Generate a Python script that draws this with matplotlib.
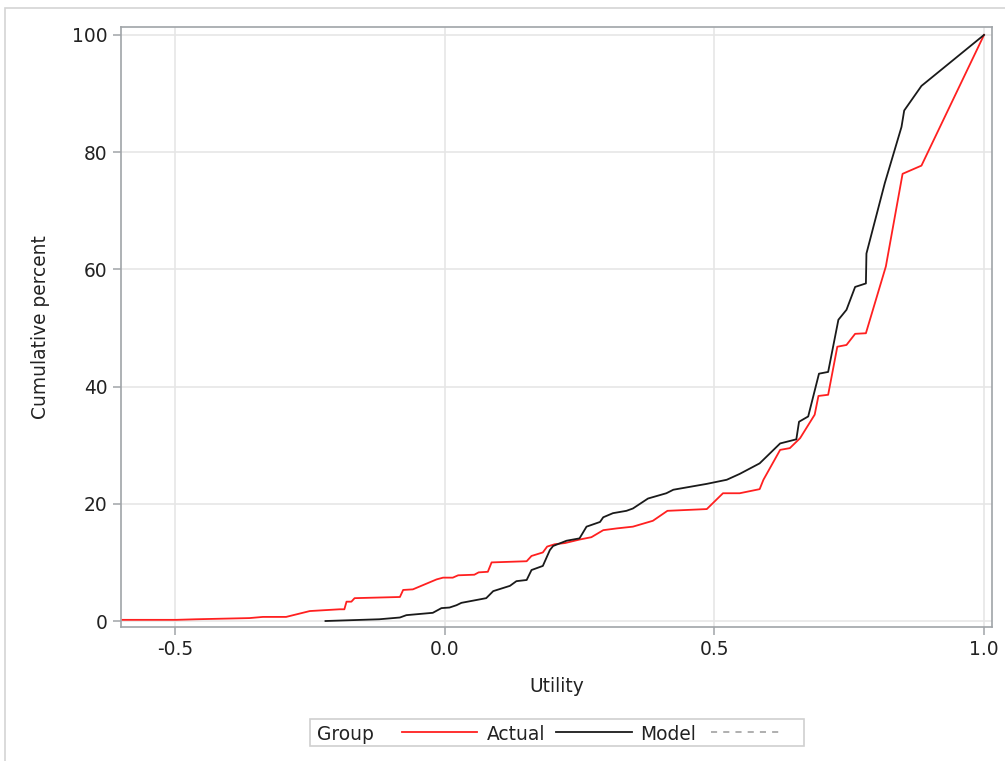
import matplotlib
matplotlib.use("Agg")
import matplotlib.pyplot as plt
from matplotlib.lines import Line2D
from matplotlib.patches import Rectangle

# ---- data ----
actual_x = [-0.597, -0.498, -0.461, -0.362, -0.337, -0.294, -0.250, -0.195, -0.186, -0.182,
            -0.173, -0.167, -0.083, -0.077, -0.059, -0.015, -0.003, 0.015, 0.025, 0.055,
            0.063, 0.080, 0.087, 0.152, 0.161, 0.182, 0.190, 0.204, 0.223, 0.250,
            0.272, 0.294, 0.319, 0.349, 0.386, 0.413, 0.486, 0.516, 0.547, 0.584,
            0.591, 0.622, 0.640, 0.659, 0.686, 0.693, 0.711, 0.728, 0.745, 0.761,
            0.781, 0.818, 0.849, 0.884, 1.0]
actual_y = [0.2, 0.2, 0.3, 0.5, 0.7, 0.7, 1.7, 2.0, 2.0, 3.3,
            3.3, 3.9, 4.1, 5.3, 5.4, 7.1, 7.4, 7.4, 7.8, 7.9,
            8.3, 8.4, 10.0, 10.2, 11.1, 11.7, 12.7, 13.1, 13.3, 13.9,
            14.3, 15.5, 15.8, 16.1, 17.1, 18.8, 19.1, 21.8, 21.8, 22.5,
            24.1, 29.2, 29.5, 31.2, 35.2, 38.4, 38.6, 46.8, 47.1, 49.0,
            49.1, 60.5, 76.3, 77.7, 100.0]

model_x = [-0.221, -0.121, -0.083, -0.071, -0.022, -0.006, 0.009, 0.022, 0.031, 0.077,
           0.090, 0.121, 0.133, 0.152, 0.161, 0.182, 0.195, 0.201, 0.226, 0.250,
           0.263, 0.288, 0.294, 0.312, 0.337, 0.349, 0.377, 0.411, 0.424, 0.486,
           0.523, 0.547, 0.584, 0.622, 0.652, 0.657, 0.674, 0.694, 0.711, 0.730,
           0.745, 0.761, 0.781, 0.782, 0.816, 0.847, 0.852, 0.884, 1.0]
model_y = [0.0, 0.3, 0.6, 1.0, 1.4, 2.2, 2.3, 2.7, 3.1, 3.9,
           5.1, 6.0, 6.8, 7.0, 8.7, 9.4, 12.1, 12.8, 13.7, 14.1,
           16.1, 16.9, 17.7, 18.4, 18.8, 19.2, 20.9, 21.8, 22.4, 23.4,
           24.1, 25.1, 26.9, 30.3, 31.0, 34.0, 34.9, 42.2, 42.5, 51.4,
           53.1, 57.0, 57.6, 62.7, 74.7, 84.3, 87.1, 91.3, 100.0]

x_ticks = [-0.5, 0.0, 0.5, 1.0]
x_tick_labels = ["-0.5", "0.0", "0.5", "1.0"]
y_ticks = [0, 20, 40, 60, 80, 100]
y_tick_labels = ["0", "20", "40", "60", "80", "100"]

legend_title = "Group"
legend_labels = ["Actual", "Model", ""]

# ---- style ----
plt.rcParams['font.family'] = ['DejaVu Sans']
RED = "#ff2020"
BLACK = "#1a1a1a"
AXC = "#a0a4a8"
GRID = "#e6e6e6"
FS = 13.4

W, H = 1005, 761
fig = plt.figure(figsize=(W / 100, H / 100), dpi=100)

def fx(px):
    return px / W

def fy(py):
    return 1 - py / H

left, right, top, bottom = 120.7, 992.0, 27.3, 626.7
ax = fig.add_axes([fx(left), fy(bottom), (right - left) / W, (bottom - top) / H])

ax.plot(actual_x, actual_y, color=RED, lw=1.3, zorder=3)
ax.plot(model_x, model_y, color=BLACK, lw=1.3, zorder=3)

ax.set_xlim(-0.6007, 1.0148)
ax.set_ylim(-0.97, 101.3)
ax.set_xticks(x_ticks)
ax.set_xticklabels(x_tick_labels)
ax.set_yticks(y_ticks)
ax.set_yticklabels(y_tick_labels)
ax.grid(True, color=GRID, lw=1.2, zorder=0)
ax.set_axisbelow(True)
for s in ax.spines.values():
    s.set_color(AXC)
    s.set_linewidth(1.2)
ax.tick_params(axis='both', colors=AXC, labelcolor="#222222", labelsize=FS,
               length=6, width=1.1, direction='out', pad=3.5)

ax.set_xlabel("Utility", fontsize=FS, color="#222222", va='center')
ax.xaxis.set_label_coords(0.5, (bottom - 686) / (bottom - top))
ax.set_ylabel("Cumulative percent", fontsize=FS, color="#222222", va='center')
ax.yaxis.set_label_coords((40 - left) / (right - left), 0.5)

# outer frame
fig.patches.append(Rectangle((fx(5), fy(H + 20)), (W + 20) / W, (H + 12) / H,
                             transform=fig.transFigure, fill=False,
                             edgecolor="#d4d4d4", lw=1.2))

# legend (manual, SAS style)
ly = 732
fig.patches.append(Rectangle((fx(309.5), fy(745.5)), (804 - 309.5) / W, (745.5 - 719) / H,
                             transform=fig.transFigure, fill=True, facecolor="white",
                             edgecolor="#d0d0d0", lw=1.2))
fig.text(fx(316.5), fy(ly), legend_title, fontsize=FS, color="#222222",
         ha='left', va='center_baseline')
fig.add_artist(Line2D([fx(401.7), fx(476.7)], [fy(ly), fy(ly)], color=RED, lw=1.3,
                      transform=fig.transFigure))
fig.text(fx(486.5), fy(ly), legend_labels[0], fontsize=FS, color="#222222",
         ha='left', va='center_baseline')
fig.add_artist(Line2D([fx(556), fx(631.7)], [fy(ly), fy(ly)], color=BLACK, lw=1.3,
                      transform=fig.transFigure))
fig.text(fx(640.5), fy(ly), legend_labels[1], fontsize=FS, color="#222222",
         ha='left', va='center_baseline')
fig.add_artist(Line2D([fx(710.7), fx(780.7)], [fy(ly), fy(ly)], color="#9a9a9a", lw=1.1,
                      ls=(0, (4, 4)), transform=fig.transFigure))

fig.savefig("out.png", dpi=100)
